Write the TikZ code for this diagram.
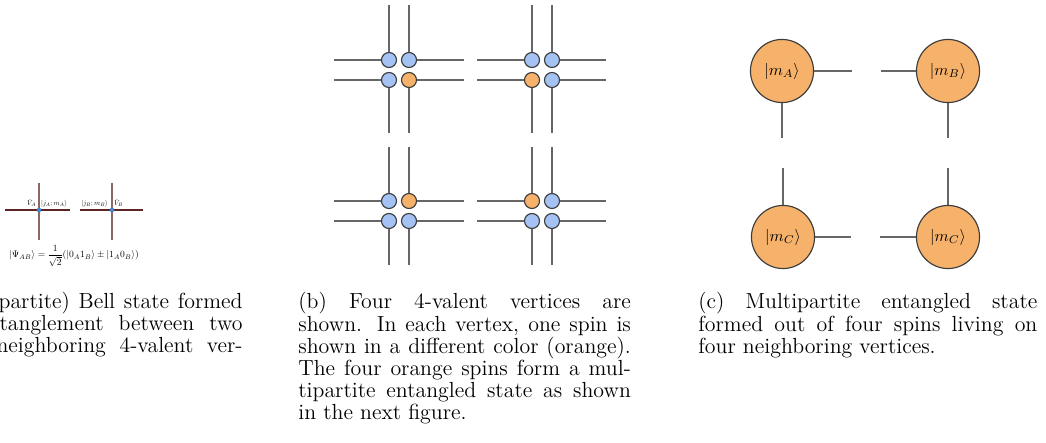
\documentclass[tikz,border=0pt]{standalone}
\usepackage{amsmath}
\definecolor{spinblue}{HTML}{A4C2F4}
\definecolor{spinorange}{HTML}{F6B26B}
\definecolor{legline}{HTML}{666666}
\definecolor{rimline}{HTML}{3C3C3C}
\definecolor{bellh}{HTML}{5E2424}
\definecolor{bellv}{HTML}{8E6464}
\definecolor{belldot}{HTML}{3F86D1}
\tikzset{
  spin/.style={circle,draw=rimline,line width=0.6pt,minimum size=7.9pt,inner sep=0pt},
  bigspin/.style={circle,draw=rimline,line width=0.6pt,fill=spinorange,minimum size=33.2pt,inner sep=0pt},
  leg/.style={draw=legline,line width=0.75pt},
  caption/.style={anchor=base west,inner sep=0pt,text width=178.4pt,align=justify,font=\fontsize{11.5}{11.6}\selectfont},
  captionpart/.style={anchor=base east,inner sep=0pt,font=\fontsize{11.5}{11.6}\selectfont},
  belllabel/.style={inner sep=0pt,scale=0.37}
}
\begin{document}
\begin{tikzpicture}[x=0.5263pt,y=-0.5263pt]
\path[use as bounding box,clip] (0,0) rectangle (1046,443);
\fill[white] (0,0) rectangle (1046,443);
% (a) two vertices sharing a Bell pair
\coordinate (al) at (5,210);
\coordinate (ar) at (70,210);
\coordinate (at) at (39,183);
\coordinate (ab) at (39,240);
\coordinate (bl) at (80,210);
\coordinate (br) at (143,210);
\coordinate (bt) at (112,183);
\coordinate (bb) at (112,240);
\draw[bellv,line width=1pt] (at) -- (ab);
\draw[bellv,line width=1pt] (bt) -- (bb);
\draw[bellh,line width=0.8pt] (al) -- (ar);
\draw[bellh,line width=0.8pt] (bl) -- (br);
\node[circle,fill=belldot,minimum size=2.4pt,inner sep=0pt] (va) at (39,210) {};
\node[circle,fill=belldot,minimum size=2.4pt,inner sep=0pt] (vb) at (112,210) {};
\node[belllabel,anchor=south east] (hva) at (36,207) {$\hat V_A$};
\node[belllabel,anchor=south west] (ja) at (41,207) {$|j_A;m_A\rangle$};
\node[belllabel,anchor=south east] (jb) at (108,207) {$|j_B;m_B\rangle$};
\node[belllabel,anchor=south west] (hvb) at (114,207) {$\hat V_B$};
\node[inner sep=0pt,scale=0.5] (psi) at (74,256) {$|\Psi_{AB}\rangle=\dfrac{1}{\sqrt{2}}(|0_A1_B\rangle\pm|1_A0_B\rangle)$};
\node[captionpart] (capa1) at (243,309) {\makebox[128.4pt][s]{partite) Bell state formed}};
\node[captionpart] (capa2) at (243,331) {\makebox[127.9pt][s]{tanglement between two}};
\node[captionpart] (capa3) at (243,353) {\makebox[129.5pt][s]{neighboring 4-valent ver-}};
% (b) four 4-valent vertices
\foreach \vx/\vy/\xl/\xr/\yt/\yb/\ca/\cb/\cc/\cd [count=\i] in {
  399/70/334/464/5/133/spinblue/spinblue/spinblue/spinorange,
  542/70/477/606/5/133/spinblue/spinblue/spinorange/spinblue,
  399/211/334/464/147/265/spinblue/spinorange/spinblue/spinblue,
  542/211/477/606/147/265/spinorange/spinblue/spinblue/spinblue}{
  \node[spin,fill=\ca] (v\i-a) at (\vx-10,\vy-10) {};
  \node[spin,fill=\cb] (v\i-b) at (\vx+10,\vy-10) {};
  \node[spin,fill=\cc] (v\i-c) at (\vx-10,\vy+10) {};
  \node[spin,fill=\cd] (v\i-d) at (\vx+10,\vy+10) {};
  \coordinate (v\i-al) at (\xl,\vy-10);
  \coordinate (v\i-at) at (\vx-10,\yt);
  \coordinate (v\i-br) at (\xr,\vy-10);
  \coordinate (v\i-bt) at (\vx+10,\yt);
  \coordinate (v\i-cl) at (\xl,\vy+10);
  \coordinate (v\i-cb) at (\vx-10,\yb);
  \coordinate (v\i-dr) at (\xr,\vy+10);
  \coordinate (v\i-db) at (\vx+10,\yb);
  \draw[leg] (v\i-a) -- (v\i-al);
  \draw[leg] (v\i-a) -- (v\i-at);
  \draw[leg] (v\i-b) -- (v\i-br);
  \draw[leg] (v\i-b) -- (v\i-bt);
  \draw[leg] (v\i-c) -- (v\i-cl);
  \draw[leg] (v\i-c) -- (v\i-cb);
  \draw[leg] (v\i-d) -- (v\i-dr);
  \draw[leg] (v\i-d) -- (v\i-db);
}
\node[caption,text width=175pt] (capb) at (298,309) {(b) Four 4-valent vertices are\linebreak shown. In each vertex, one spin is shown in a different color (orange). The four orange spins form a mul\-tipartite entangled state as shown in the next figure.};
% (c) multipartite state of the four orange spins
\node[bigspin] (ma) at (782,71) {\scalebox{0.85}{$|m_A\rangle$}};
\node[bigspin] (mb) at (948,71) {\scalebox{0.85}{$|m_B\rangle$}};
\node[bigspin] (mc) at (783,237) {\scalebox{0.85}{$|m_C\rangle$}};
\node[bigspin] (md) at (948,237) {\scalebox{0.85}{$|m_C\rangle$}};
\coordinate (ea) at (852,71);
\coordinate (sa) at (782,138);
\coordinate (wb) at (881,71);
\coordinate (sb) at (948,138);
\coordinate (nc) at (783,168);
\coordinate (ec) at (851,237);
\coordinate (nd) at (948,168);
\coordinate (wd) at (880,237);
\draw[leg] (ma) -- (ea);
\draw[leg] (ma) -- (sa);
\draw[leg] (mb) -- (wb);
\draw[leg] (mb) -- (sb);
\draw[leg] (mc) -- (nc);
\draw[leg] (mc) -- (ec);
\draw[leg] (md) -- (nd);
\draw[leg] (md) -- (wd);
\node[caption] (capc) at (698,309) {(c) Multipartite entangled state formed out of four spins living on four neighboring vertices.};
\end{tikzpicture}
\end{document}
